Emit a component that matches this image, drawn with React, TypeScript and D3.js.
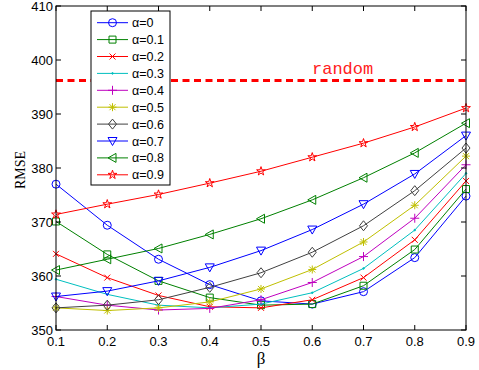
import React, { useEffect, useRef } from 'react';
import * as d3 from 'd3';

// beta values on the x axis
const betas = [0.1, 0.2, 0.3, 0.4, 0.5, 0.6, 0.7, 0.8, 0.9];
const alphaLabels = ['α=0', 'α=0.1', 'α=0.2', 'α=0.3', 'α=0.4', 'α=0.5', 'α=0.6', 'α=0.7', 'α=0.8', 'α=0.9'];

// RMSE per alpha
const rmseA0 = [377.0, 369.4, 363.1, 358.4, 355.4, 354.8, 357.1, 363.4, 374.8];
const rmseA1 = [370.1, 364.0, 359.1, 356.0, 354.6, 354.8, 358.2, 364.9, 376.1];
const rmseA2 = [364.1, 359.7, 356.4, 354.3, 354.1, 355.6, 359.7, 366.7, 377.6];
const rmseA3 = [359.4, 356.6, 354.6, 354.1, 354.8, 356.9, 361.4, 368.5, 379.0];
const rmseA4 = [356.2, 354.6, 353.7, 354.0, 355.6, 358.8, 363.6, 370.7, 380.6];
const rmseA5 = [354.1, 353.6, 354.1, 355.2, 357.6, 361.2, 366.3, 373.1, 382.2];
const rmseA6 = [354.1, 354.6, 355.6, 357.9, 360.6, 364.4, 369.3, 375.8, 383.7];
const rmseA7 = [356.2, 357.2, 359.1, 361.6, 364.7, 368.6, 373.3, 378.9, 386.0];
const rmseA8 = [361.1, 363.1, 365.1, 367.7, 370.6, 374.1, 378.2, 382.8, 388.3];
const rmseA9 = [371.4, 373.3, 375.1, 377.2, 379.4, 382.0, 384.6, 387.6, 391.1];
const randomRmse = 396.2;

const xTicks = [0.1, 0.2, 0.3, 0.4, 0.5, 0.6, 0.7, 0.8, 0.9];
const yTicks = [350, 360, 370, 380, 390, 400, 410];

const seriesValues = [rmseA0, rmseA1, rmseA2, rmseA3, rmseA4, rmseA5, rmseA6, rmseA7, rmseA8, rmseA9];
const colors = ['#0000ff', '#008000', '#ff0000', '#00bfbf', '#bf00bf', '#bfbf00', '#404040', '#0000ff', '#008000', '#ff0000'];
const markers = ['circle', 'square', 'x', 'point', 'plus', 'asterisk', 'diamond', 'triDown', 'triLeft', 'star'];

// path for a marker centred on 0,0
function markerPath(type: string): string {
  switch (type) {
    case 'circle':
      return 'M4,0A4,4 0 1,1 -4,0A4,4 0 1,1 4,0Z';
    case 'square':
      return 'M-3.5,-3.5H3.5V3.5H-3.5Z';
    case 'x':
      return 'M-3,-3L3,3M-3,3L3,-3';
    case 'point':
      return 'M-0.8,0A0.8,0.8 0 1,1 0.8,0A0.8,0.8 0 1,1 -0.8,0Z';
    case 'plus':
      return 'M-4.5,0H4.5M0,-4.5V4.5';
    case 'asterisk':
      return 'M-4,0H4M0,-4V4M-3,-3L3,3M-3,3L3,-3';
    case 'diamond':
      return 'M0,-5L4,0L0,5L-4,0Z';
    case 'triDown':
      return 'M-4.5,-3.5H4.5L0,4.5Z';
    case 'triLeft':
      return 'M-4.5,0L3.5,-4.5V4.5Z';
    case 'star':
      return d3.symbol(d3.symbolStar, 24)() as string;
    default:
      return '';
  }
}

const App = () => {
  const ref = useRef<SVGSVGElement>(null);
  const width = 479;
  const height = 370;
  const margin = { left: 56, right: 13, top: 6, bottom: 40 };

  useEffect(() => {
    if (!ref.current) return;
    const svg = d3.select(ref.current);
    svg.selectAll('*').remove();

    const x = d3.scaleLinear().domain([0.1, 0.9]).range([margin.left, width - margin.right]);
    const y = d3.scaleLinear().domain([350, 410]).range([height - margin.bottom, margin.top]);

    svg.append('rect').attr('width', width).attr('height', height).attr('fill', 'white');

    // random baseline
    svg.append('line')
      .attr('x1', x(0.1)).attr('x2', x(0.9))
      .attr('y1', y(randomRmse)).attr('y2', y(randomRmse))
      .attr('stroke', '#ff0000').attr('stroke-width', 3)
      .attr('stroke-dasharray', '7,4.5');
    svg.append('text')
      .attr('x', 312).attr('y', y(randomRmse) - 7)
      .attr('fill', '#ff2020')
      .style('font-family', '"Liberation Mono", "DejaVu Sans Mono", monospace')
      .style('font-size', '17px')
      .text('random');

    const line = d3.line<number>().x((_, i) => x(betas[i])).y(d => y(d));

    seriesValues.forEach((vals, k) => {
      const g = svg.append('g');
      g.append('path')
        .attr('d', line(vals))
        .attr('fill', 'none')
        .attr('stroke', colors[k])
        .attr('stroke-width', 1);
      g.selectAll('path.m')
        .data(vals)
        .join('path')
        .attr('class', 'm')
        .attr('transform', (d, i) => `translate(${x(betas[i])},${y(d)})`)
        .attr('d', markerPath(markers[k]))
        .attr('fill', markers[k] === 'point' ? colors[k] : 'none')
        .attr('stroke', colors[k])
        .attr('stroke-width', 1);
    });

    // axes box with inward ticks on all sides
    const axisFont = '"Liberation Sans", Arial, sans-serif';
    const box = svg.append('g');
    box.append('rect')
      .attr('x', x(0.1)).attr('y', y(410))
      .attr('width', x(0.9) - x(0.1)).attr('height', y(350) - y(410))
      .attr('fill', 'none').attr('stroke', 'black').attr('stroke-width', 1);

    xTicks.forEach(t => {
      box.append('line').attr('x1', x(t)).attr('x2', x(t)).attr('y1', y(350)).attr('y2', y(350) - 5).attr('stroke', 'black');
      box.append('line').attr('x1', x(t)).attr('x2', x(t)).attr('y1', y(410)).attr('y2', y(410) + 5).attr('stroke', 'black');
      box.append('text')
        .attr('x', x(t)).attr('y', y(350) + 16)
        .attr('text-anchor', 'middle')
        .style('font-family', axisFont).style('font-size', '13px')
        .text(d3.format('.1f')(t));
    });
    yTicks.forEach(t => {
      box.append('line').attr('x1', x(0.1)).attr('x2', x(0.1) + 5).attr('y1', y(t)).attr('y2', y(t)).attr('stroke', 'black');
      box.append('line').attr('x1', x(0.9)).attr('x2', x(0.9) - 5).attr('y1', y(t)).attr('y2', y(t)).attr('stroke', 'black');
      box.append('text')
        .attr('x', x(0.1) - 3).attr('y', y(t) + 4.5)
        .attr('text-anchor', 'end')
        .style('font-family', axisFont).style('font-size', '13px')
        .text(t);
    });

    svg.append('text')
      .attr('x', (x(0.1) + x(0.9)) / 2).attr('y', 364)
      .attr('text-anchor', 'middle')
      .style('font-family', '"Liberation Serif", "Times New Roman", serif')
      .style('font-size', '17px')
      .text('β');
    svg.append('text')
      .attr('transform', `translate(25,170) rotate(-90)`)
      .attr('text-anchor', 'middle')
      .style('font-family', '"Liberation Serif", "Times New Roman", serif')
      .style('font-size', '14px')
      .text('RMSE');

    // legend
    const legend = svg.append('g');
    legend.append('rect')
      .attr('x', 91).attr('y', 11).attr('width', 79).attr('height', 174)
      .attr('fill', 'white').attr('stroke', 'black').attr('stroke-width', 1);
    alphaLabels.forEach((lab, k) => {
      const cy = 22.7 + k * 16.9;
      legend.append('line').attr('x1', 97).attr('x2', 128).attr('y1', cy).attr('y2', cy).attr('stroke', colors[k]);
      legend.append('path')
        .attr('transform', `translate(112.5,${cy})`)
        .attr('d', markerPath(markers[k]))
        .attr('fill', markers[k] === 'point' ? colors[k] : 'none')
        .attr('stroke', colors[k]);
      legend.append('text')
        .attr('x', 132).attr('y', cy + 4.5)
        .style('font-family', axisFont).style('font-size', '12.5px')
        .text(lab);
    });
  }, []);

  return (
    <svg ref={ref} width={width} height={height} style={{ position: 'absolute', left: 0, top: 0, display: 'block' }} />
  );
};

export default App;
